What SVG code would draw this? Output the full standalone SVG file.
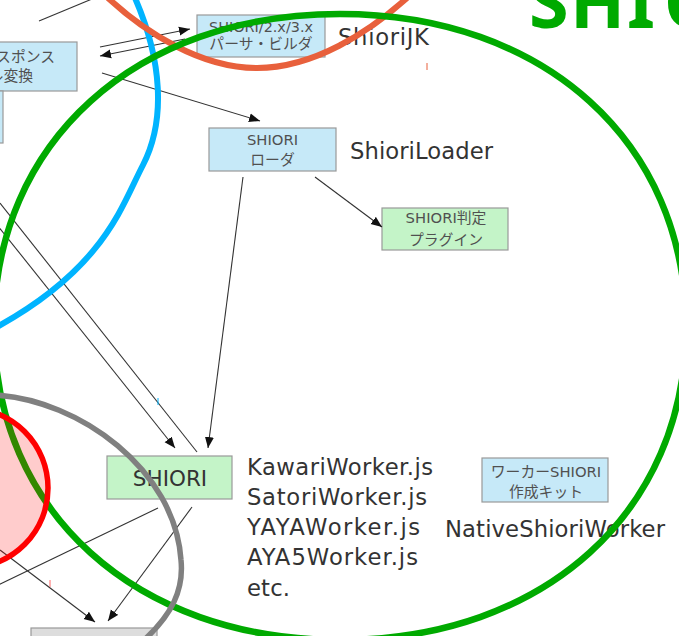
<svg xmlns="http://www.w3.org/2000/svg" width="679" height="636" viewBox="0 0 679 636">
<defs>
<marker id="ah" markerWidth="12" markerHeight="10" refX="11" refY="5" orient="auto" markerUnits="userSpaceOnUse"><path d="M0,0.5 L11,5 L0,9.5 z" fill="#111"/></marker>
<style>
.blue{fill:#c6e9f8;stroke:#999;stroke-width:1.2}
.green{fill:#c4f4c8;stroke:#999;stroke-width:1.2}
.gray{fill:#dddddd;stroke:#999;stroke-width:1.2}
.bt{font-family:"DejaVu Sans","Noto Sans CJK JP",sans-serif;font-size:14.8px;fill:#505050;text-anchor:middle}
.lbl{font-family:"DejaVu Sans","Noto Sans CJK JP",sans-serif;font-size:22.7px;fill:#333}
.conn line{stroke:#333;stroke-width:1.1;fill:none}
.ell{fill:none}
</style>
</defs>
<rect width="679" height="636" fill="#fff"/>

<g id="resp">
<rect class="blue" x="-20" y="42" width="97" height="49"/>
<text class="bt" style="text-anchor:end" x="55" y="62">スポンス</text>
<text class="bt" style="text-anchor:end" x="33" y="81">ル変換</text>
</g>
<g id="leftbox">
<rect class="blue" x="-20" y="91" width="23" height="52"/>
</g>
<g id="parser">
<rect class="blue" x="197" y="15" width="128" height="42"/>
<text class="bt" x="261" y="32" textLength="104" lengthAdjust="spacingAndGlyphs">SHIORI/2.x/3.x</text>
<text class="bt" x="261" y="49">パーサ・ビルダ</text>
</g>
<g id="shiorijk"><text class="lbl" x="338" y="45" textLength="91">ShioriJK</text></g>
<g id="loader">
<rect class="blue" x="209" y="128" width="127" height="43"/>
<text class="bt" x="272.5" y="145">SHIORI</text>
<text class="bt" x="272.5" y="165">ローダ</text>
</g>
<g id="shioriloader"><text class="lbl" x="350" y="159" textLength="143">ShioriLoader</text></g>
<g id="plugin">
<rect class="green" x="382" y="208" width="126" height="42"/>
<text class="bt" x="446" y="223">SHIORI判定</text>
<text class="bt" x="446" y="245">プラグイン</text>
</g>
<g id="shiori">
<rect class="green" x="107" y="456" width="125" height="43"/>
<text class="lbl" style="font-size:21.5px;text-anchor:middle" x="170" y="486">SHIORI</text>
</g>
<g id="workers">
<text class="lbl" x="247" y="475" textLength="186">KawariWorker.js</text>
<text class="lbl" x="247" y="505" textLength="180">SatoriWorker.js</text>
<text class="lbl" x="247" y="535" textLength="173">YAYAWorker.js</text>
<text class="lbl" x="247" y="565" textLength="171">AYA5Worker.js</text>
<text class="lbl" x="247" y="596" textLength="43">etc.</text>
</g>
<g id="kit">
<rect class="blue" x="482" y="458" width="126" height="44"/>
<text class="bt" x="546" y="477">ワーカーSHIORI</text>
<text class="bt" x="546" y="497">作成キット</text>
</g>
<g id="native"><text class="lbl" x="445" y="537" textLength="220">NativeShioriWorker</text></g>
<g id="bottombox">
<rect class="gray" x="31" y="628" width="126" height="30"/>
</g>
<g id="title"><text x="529 570 627 664" y="28" style="font-family:'Noto Sans',sans-serif;font-weight:bold;font-size:72px;fill:#00aa00">SHIO</text></g>

<g class="conn" id="connectors">
<line x1="39" y1="21" x2="92" y2="-1"/>
<line x1="100" y1="47" x2="190" y2="29" marker-end="url(#ah)"/>
<line x1="185" y1="39" x2="100" y2="56" marker-end="url(#ah)"/>
<line x1="102" y1="73" x2="260" y2="121" marker-end="url(#ah)"/>
<line x1="315" y1="177" x2="382" y2="227" marker-end="url(#ah)"/>
<line x1="243" y1="177" x2="208" y2="448" marker-end="url(#ah)"/>
<line x1="0" y1="203" x2="197" y2="452"/>
<line x1="-2" y1="226" x2="175" y2="448" marker-end="url(#ah)"/>
<line x1="0" y1="550" x2="95" y2="622" marker-end="url(#ah)"/>
<line x1="192" y1="507" x2="108" y2="621" marker-end="url(#ah)"/>
<line x1="158" y1="508" x2="-2" y2="585"/>
</g>

<g id="groups">
<path class="ell" d="M135,-2 C162,60 166,120 143,165 C122,205 105,268 -5,328" stroke="#00b4ff" stroke-width="6"/>
<path class="ell" d="M108,-2 C145,32 200,68 257,68 C314,68 369,32 407,-2" stroke="#e8603c" stroke-width="6"/>
<path class="ell" d="M686,327 C686,511.7 544.1,640 340,640 C135.9,640 -6,511.7 -6,327 C-6,142.3 135.9,14 340,14 C544.1,14 686,142.3 686,327 Z" stroke="#00aa00" stroke-width="6.5"/>
<path class="ell" d="M-5,395 C80,400 175,470 181,560 C184,590 172,615 142,642" stroke="#808080" stroke-width="5.5"/>
<circle cx="-32" cy="488" r="80" fill="#ff0000" fill-opacity="0.2" stroke="#ff0000" stroke-width="5.5"/>
<line x1="427" y1="63" x2="427" y2="70" stroke="#e8603c" stroke-width="1"/>
<line x1="158" y1="398" x2="158" y2="405" stroke="#00b4ff" stroke-width="1"/>
<line x1="50" y1="580" x2="50" y2="587" stroke="#ff6666" stroke-width="1"/>
</g>
</svg>
